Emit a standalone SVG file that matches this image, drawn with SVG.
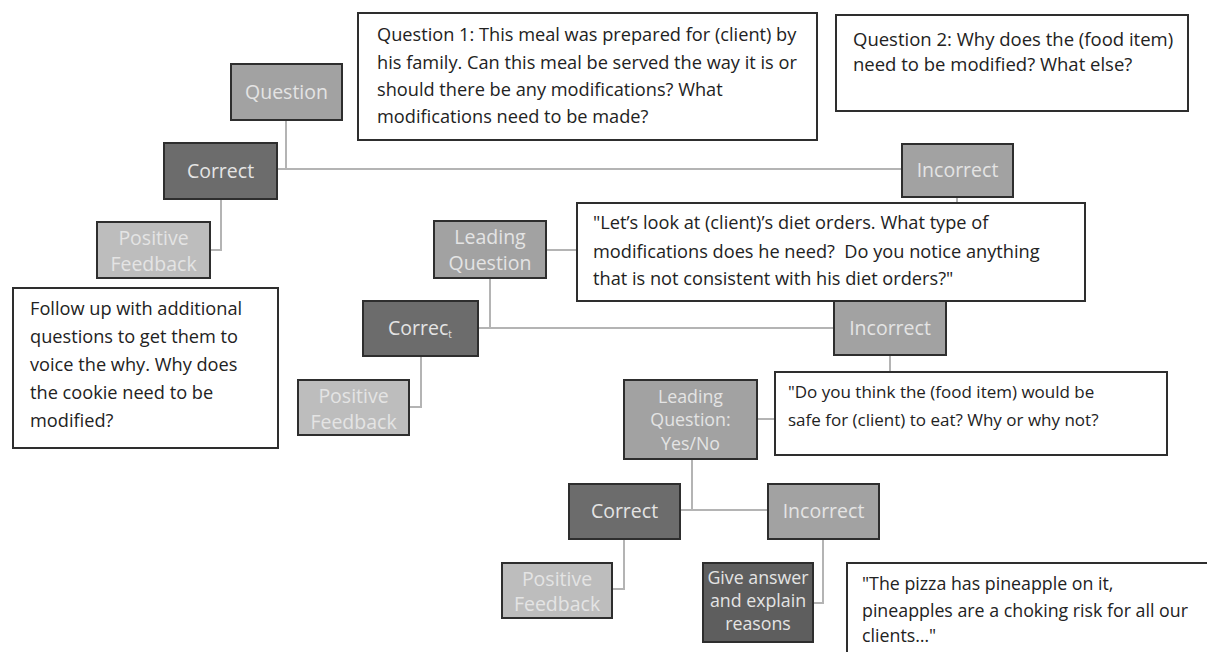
<svg xmlns="http://www.w3.org/2000/svg" width="1207" height="652" viewBox="0 0 1207 652">
<style>
.n{stroke:#2e2e2e;stroke-width:2}
.mid{fill:#a2a2a2}
.dark{fill:#6c6c6c}
.darker{fill:#5e5e5e}
.light{fill:#bdbdbd}
.nt{font-family:"Open Sans","Liberation Sans",sans-serif;font-size:19.5px;text-anchor:middle;fill:#e4e4e4}
.tb{fill:#fff;stroke:#2e2e2e;stroke-width:2}
.tt{font-family:"Open Sans","Liberation Sans",sans-serif;font-size:18.2px;fill:#222}
.c{fill:none;stroke:#b4b4b4;stroke-width:2}
</style>
<rect width="1207" height="652" fill="#fff"/>
<g id="connectors">
<path class="c" d="M286 120 V169 H902 M277 169 H286"/>
<path class="c" d="M221 199 V250 H210"/>
<path class="c" d="M957 197 V203"/>
<path class="c" d="M546 250 H577"/>
<path class="c" d="M490 278 V328 H834 M478 328 H490"/>
<path class="c" d="M421 356 V407 H409"/>
<path class="c" d="M890 355 V372"/>
<path class="c" d="M757 419 H775"/>
<path class="c" d="M692 459 V510 H768 M680 510 H692"/>
<path class="c" d="M624 539 V589 H612"/>
<path class="c" d="M823 539 V603 H813"/>
</g>
<g id="q1text">
<rect class="tb" x="358" y="13" width="459" height="127"/>
<text class="tt" x="377" y="41">Question 1: This meal was prepared for (client) by</text>
<text class="tt" x="377" y="69">his family. Can this meal be served the way it is or</text>
<text class="tt" x="377" y="96">should there be any modifications? What</text>
<text class="tt" x="377" y="123">modifications need to be made?</text>
</g>
<g id="q2text">
<rect class="tb" x="836" y="15" width="352" height="96"/>
<text class="tt" x="853" y="46" style="font-size:18.5px">Question 2: Why does the (food item)</text>
<text class="tt" x="853" y="71" style="font-size:18.5px">need to be modified? What else?</text>
</g>
<g id="question">
<rect class="n mid" x="231" y="64" width="111" height="56"/>
<text class="nt" x="286.5" y="99">Question</text>
</g>
<g id="correct1">
<rect class="n dark" x="164" y="143" width="113" height="56"/>
<text class="nt" x="220.5" y="178">Correct</text>
</g>
<g id="incorrect1">
<rect class="n mid" x="902" y="144" width="111" height="53"/>
<text class="nt" x="957.5" y="177">Incorrect</text>
</g>
<g id="positive1">
<rect class="n light" x="97" y="222" width="113" height="56"/>
<text class="nt" x="153.5" y="245">Positive</text>
<text class="nt" x="153.5" y="271">Feedback</text>
</g>
<g id="followup">
<rect class="tb" x="13" y="288" width="265" height="160"/>
<text class="tt" x="30" y="315">Follow up with additional</text>
<text class="tt" x="30" y="343">questions to get them to</text>
<text class="tt" x="30" y="371">voice the why. Why does</text>
<text class="tt" x="30" y="399">the cookie need to be</text>
<text class="tt" x="30" y="427">modified?</text>
</g>
<g id="leading1">
<rect class="n mid" x="434" y="221" width="112" height="57"/>
<text class="nt" x="490" y="244">Leading</text>
<text class="nt" x="490" y="270">Question</text>
</g>
<g id="letslook">
<rect class="tb" x="577" y="203" width="508" height="98"/>
<text class="tt" x="593" y="229">"Let’s look at (client)’s diet orders. What type of</text>
<text class="tt" x="593" y="258" xml:space="preserve">modifications does he need?  Do you notice anything</text>
<text class="tt" x="593" y="285">that is not consistent with his diet orders?"</text>
</g>
<g id="correct2">
<rect class="n dark" x="363" y="301" width="115" height="55"/>
<text class="nt" x="420" y="335">Correc<tspan font-size="10" dy="3">t</tspan></text>
</g>
<g id="incorrect2">
<rect class="n mid" x="834" y="301" width="112" height="54"/>
<text class="nt" x="890" y="335">Incorrect</text>
</g>
<g id="positive2">
<rect class="n light" x="298" y="380" width="111" height="55"/>
<text class="nt" x="353.5" y="403">Positive</text>
<text class="nt" x="353.5" y="429">Feedback</text>
</g>
<g id="leading2">
<rect class="n mid" x="624" y="380" width="133" height="79"/>
<text class="nt" x="690.5" y="403" style="font-size:17.8px">Leading</text>
<text class="nt" x="690.5" y="426" style="font-size:17.8px">Question:</text>
<text class="nt" x="690.5" y="450" style="font-size:17.8px">Yes/No</text>
</g>
<g id="dothink">
<rect class="tb" x="775" y="372" width="392" height="83"/>
<text class="tt" x="788" y="398" style="font-size:17px">"Do you think the (food item) would be</text>
<text class="tt" x="788" y="426" style="font-size:17px">safe for (client) to eat? Why or why not?</text>
</g>
<g id="correct3">
<rect class="n dark" x="569" y="484" width="111" height="55"/>
<text class="nt" x="624.5" y="518">Correct</text>
</g>
<g id="incorrect3">
<rect class="n mid" x="768" y="484" width="111" height="55"/>
<text class="nt" x="823.5" y="518">Incorrect</text>
</g>
<g id="positive3">
<rect class="n light" x="502" y="563" width="110" height="55"/>
<text class="nt" x="557" y="586">Positive</text>
<text class="nt" x="557" y="611">Feedback</text>
</g>
<g id="giveanswer">
<rect class="n darker" x="703" y="563" width="110" height="79"/>
<text class="nt" x="758" y="584" style="font-size:17.8px">Give answer</text>
<text class="nt" x="758" y="607" style="font-size:17.8px">and explain</text>
<text class="nt" x="758" y="630" style="font-size:17.8px">reasons</text>
</g>
<g id="pineapple">
<rect class="tb" x="847" y="563" width="380" height="110"/>
<text class="tt" x="862" y="590" style="font-size:17.8px">"The pizza has pineapple on it,</text>
<text class="tt" x="862" y="617" style="font-size:17.8px">pineapples are a choking risk for all our</text>
<text class="tt" x="862" y="642" style="font-size:17.8px">clients…"</text>
</g>
</svg>
